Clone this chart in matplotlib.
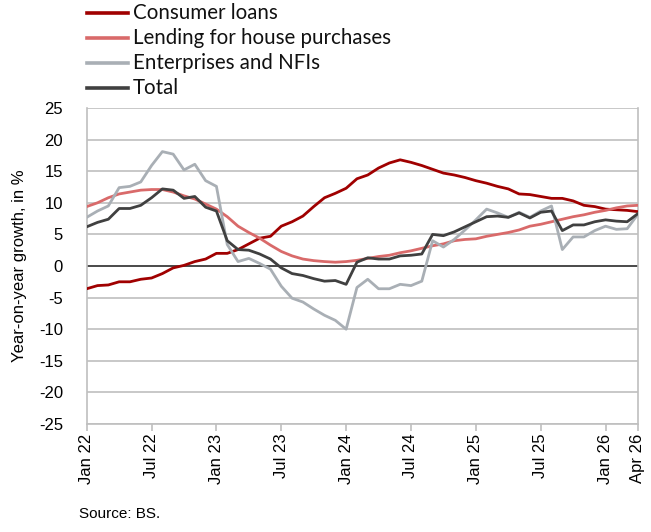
import matplotlib
matplotlib.use("Agg")
import matplotlib.pyplot as plt
from matplotlib.lines import Line2D
import numpy as np

months = 52  # Jan 2022 .. Apr 2026
consumer = [-3.6, -3.1, -3.0, -2.5, -2.5, -2.1, -1.9, -1.2, -0.3, 0.1, 0.7, 1.1,
            2.0, 2.0, 2.6, 3.5, 4.4, 4.7, 6.3, 7.0, 7.9, 9.4, 10.8, 11.5,
            12.3, 13.8, 14.4, 15.5, 16.3, 16.8, 16.4, 15.9, 15.3, 14.7, 14.4, 14.0,
            13.5, 13.1, 12.6, 12.2, 11.4, 11.3, 11.0, 10.7, 10.7, 10.3, 9.6, 9.4,
            9.0, 8.9, 8.8, 8.6]
house = [9.4, 10.0, 10.8, 11.4, 11.7, 12.0, 12.1, 12.1, 11.7, 11.1, 10.6, 9.8,
         9.0, 7.8, 6.3, 5.3, 4.4, 3.3, 2.3, 1.6, 1.1, 0.85, 0.7, 0.6,
         0.7, 0.9, 1.2, 1.5, 1.7, 2.1, 2.4, 2.8, 3.2, 3.5, 4.0, 4.2,
         4.3, 4.7, 5.0, 5.3, 5.7, 6.3, 6.6, 7.0, 7.4, 7.8, 8.1, 8.5,
         8.8, 9.2, 9.5, 9.6]
enterprises = [7.7, 8.7, 9.5, 12.4, 12.6, 13.3, 15.9, 18.1, 17.7, 15.2, 16.1, 13.5,
               12.6, 3.4, 0.7, 1.2, 0.4, -0.5, -3.2, -5.1, -5.7, -6.8, -7.8, -8.6,
               -10.0, -3.4, -2.1, -3.6, -3.6, -2.9, -3.1, -2.4, 4.0, 3.0, 4.2, 5.7,
               7.3, 9.0, 8.4, 7.7, 8.5, 7.7, 8.7, 9.5, 2.6, 4.6, 4.6, 5.6,
               6.3, 5.8, 5.9, 8.2]
total = [6.2, 6.9, 7.4, 9.1, 9.1, 9.6, 10.8, 12.2, 12.0, 10.7, 11.0, 9.3,
         8.7, 4.0, 2.6, 2.5, 1.9, 1.1, -0.3, -1.2, -1.5, -2.0, -2.4, -2.3,
         -2.9, 0.6, 1.3, 1.1, 1.1, 1.6, 1.7, 1.9, 5.0, 4.8, 5.4, 6.2,
         7.0, 7.8, 7.9, 7.7, 8.4, 7.6, 8.5, 8.7, 5.6, 6.5, 6.5, 7.0,
         7.3, 7.1, 7.0, 8.3]
series_names = ["Consumer loans", "Lending for house purchases", "Enterprises and NFIs", "Total"]
tick_pos = [0, 6, 12, 18, 24, 30, 36, 42, 48, 51]
tick_labels = ["Jan 22", "Jul 22", "Jan 23", "Jul 23", "Jan 24", "Jul 24",
               "Jan 25", "Jul 25", "Jan 26", "Apr 26"]
y_ticks = list(range(-25, 26, 5))

x = np.arange(months)
W, H = 651, 532

fig = plt.figure(figsize=(6.51, 5.32), dpi=100)
ax = fig.add_axes([0.1332, 0.203, 0.8468, 0.594])

colors = ["#A00000", "#D96A6A", "#A9AFB5", "#404040"]
data = [consumer, house, enterprises, total]
for vals, c, name in zip(data, colors, series_names):
    ax.plot(x, vals, color=c, lw=2.0, label=name, zorder=3, solid_joinstyle="round")

ax.axhline(0, color="#404040", lw=1.3, zorder=2)

ax.set_xlim(0, 51)
ax.set_ylim(-25, 25)
ax.set_yticks(y_ticks)
ax.set_yticklabels([str(v) for v in y_ticks], fontsize=12, family="Liberation Sans")
ax.set_xticks(tick_pos)
ax.set_xticklabels(tick_labels, rotation=90, fontsize=12, family="Liberation Sans")
ax.grid(axis="y", color="#BFBFBF", lw=1.2, zorder=1)
ax.tick_params(axis="y", length=0, pad=17)
ax.tick_params(axis="x", length=5, color="#BFBFBF", width=1.2, pad=2)
ax.spines["top"].set_visible(False)
for s in ["left", "right", "bottom"]:
    ax.spines[s].set_color("#BFBFBF")
    ax.spines[s].set_linewidth(1.2)

ax.set_ylabel("Year-on-year growth, in %", fontsize=12, family="Liberation Sans")
ax.yaxis.set_label_coords(-0.108, 0.5)

# manual legend
row_y = [13, 38, 63, 88]
for yy, c, name in zip(row_y, colors, series_names):
    fy = 1 - yy / H
    fig.add_artist(Line2D([87 / W, 128 / W], [fy, fy], color=c, lw=2.6,
                          transform=fig.transFigure))
    fig.text(133 / W, fy, name, fontsize=14.8, family="Lato", va="center", ha="left",
             color="#111111")

fig.text(0.121, 0.027, "Source: BS.", fontsize=11, family="Liberation Sans")

fig.savefig("out.png", dpi=100)
